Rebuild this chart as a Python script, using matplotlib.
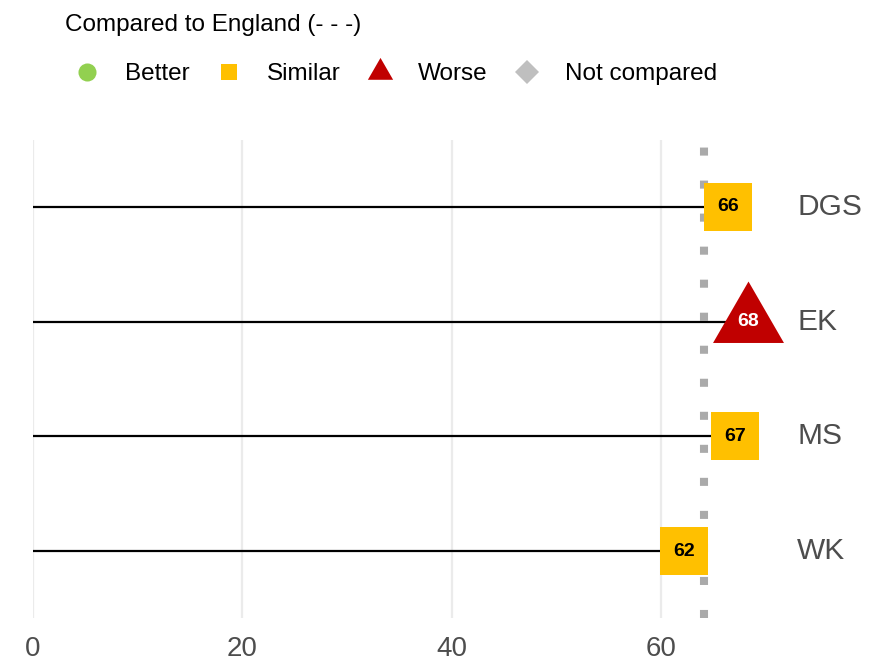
import matplotlib
matplotlib.use("Agg")
import matplotlib.pyplot as plt
from matplotlib.lines import Line2D

# ----------------------------- data -----------------------------
areas = ["DGS", "EK", "MS", "WK"]
values = [66.4, 68.3, 67.1, 62.2]
labels = ["66", "68", "67", "62"]
status = ["Similar", "Worse", "Similar", "Similar"]
england = 64.1
xticks = [0, 20, 40, 60]
legend_keys = ["Better", "Similar", "Worse", "Not compared"]

colours = {"Better": "#92d050", "Similar": "#ffc000", "Worse": "#c00000", "Not compared": "#bfbfbf"}
tri = [(-1, -0.577), (1, -0.577), (0, 1.155)]
markers = {"Better": "o", "Similar": "s", "Worse": tri, "Not compared": "D"}
msizes = {"Better": 30, "Similar": 34, "Worse": 59, "Not compared": 30}
leg_sizes = {"Better": 13, "Similar": 12, "Worse": 21, "Not compared": 12}

plt.rcParams["font.family"] = ["Liberation Sans", "DejaVu Sans"]

fig = plt.figure(figsize=(8.75, 6.71), dpi=100)
ax = fig.add_axes([33 / 875, 53 / 671, 842 / 875, 478 / 671])

ys = list(range(len(areas), 0, -1))

for x in xticks:
    ax.axvline(x, color="#ebebeb", lw=1.6, zorder=0)

ax.axvline(england, color="#aaaaaa", lw=5.8, dashes=(1, 3.1), zorder=1)

for a, v, lab, st, y in zip(areas, values, labels, status, ys):
    ax.plot([0, v], [y, y], color="black", lw=1.6, zorder=2)
    ax.plot(v, y, marker=markers[st], ms=msizes[st], color=colours[st],
            markeredgewidth=0, linestyle="none", zorder=3)
    tc = "white" if st == "Worse" else "black"
    ax.text(v, y, lab, ha="center", va="center", fontsize=14,
            fontweight="bold", color=tc, zorder=4)
    ax.text(73.0, y, a, ha="left", va="center", fontsize=21.5, color="#4d4d4d")

ax.set_xlim(0, 842 / 10.467)
ax.set_ylim(0.417, 4.583)
ax.set_xticks(xticks)
ax.set_xticklabels([str(t) for t in xticks])
ax.set_yticks([])
ax.tick_params(axis="x", length=0, pad=13, labelsize=20, labelcolor="#4d4d4d")
for s in ax.spines.values():
    s.set_visible(False)

# legend
fig.text(65 / 875, 1 - 31 / 671, "Compared to England (- - -)", fontsize=17.5,
         va="baseline", ha="left", color="black")
handles = []
for k in legend_keys:
    handles.append(Line2D([], [], marker=markers[k], color=colours[k], ms=leg_sizes[k],
                          markeredgewidth=0, linestyle="none", label=k))
fig.legend(handles=handles, loc="center left", bbox_to_anchor=(72.4 / 875, 1 - 74 / 671),
           ncol=4, frameon=False, fontsize=17.5, handletextpad=0.96,
           columnspacing=1.02, handlelength=1.2, borderpad=0, borderaxespad=0)

fig.savefig("out.png", dpi=100, facecolor="white")
